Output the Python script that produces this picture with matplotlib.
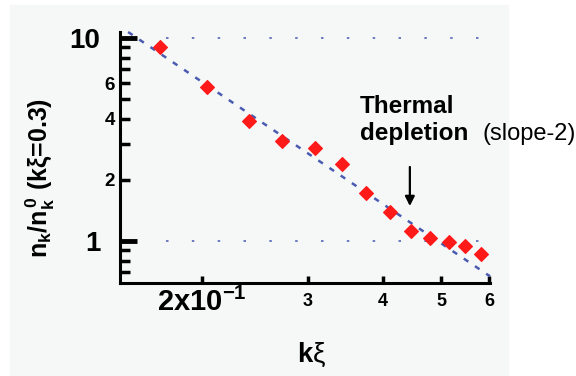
import matplotlib.pyplot as plt
from matplotlib.patches import Rectangle

plt.rcParams['font.family'] = ['Liberation Sans', 'DejaVu Sans']
plt.rcParams['mathtext.fontset'] = 'custom'
plt.rcParams['mathtext.rm'] = 'Liberation Sans'
plt.rcParams['mathtext.bf'] = 'Liberation Sans:bold'
plt.rcParams['mathtext.it'] = 'Liberation Sans:italic'

## measured points (k xi, n_k / n_k0)
k_xi = [0.170, 0.204, 0.239, 0.272, 0.308, 0.342, 0.375, 0.410, 0.445, 0.479, 0.514, 0.547, 0.582]
n_ratio = [9.06, 5.75, 3.91, 3.10, 2.86, 2.39, 1.73, 1.385, 1.12, 1.04, 0.99, 0.94, 0.86]

## slope -2 guide line (end points)
fit_x = [0.1507, 0.602]
fit_y = [10.7, 0.67]

## dotted reference levels
grid_levels = [1, 10]
grid_x = [0.174, 0.60]

xticks = [0.3, 0.4, 0.5, 0.6]
xlabels = ['3', '4', '5', '6']
y_major = [1, 10]
y_major_labels = ['1', '10']
y_minor = [0.7, 0.8, 0.9, 2, 3, 4, 5, 6, 7, 8, 9]
y_minor_labels = ['', '', '', '2', '', '4', '', '6', '', '', '']

fig = plt.figure(figsize=(5.76, 3.76), dpi=100)
fig.add_artist(Rectangle((10/576, 0), 498/576, 371/376, transform=fig.transFigure,
                         color='#f6f8f8', zorder=0))
ax = fig.add_axes([120/576, 93/376, 370/576, 251/376])
ax.set_facecolor('none')
ax.set_xscale('log')
ax.set_yscale('log')
ax.set_xlim(0.1461, 0.602)
ax.set_ylim(0.621, 10.7)

ax.hlines(grid_levels, grid_x[0], grid_x[1], colors='#5565b5',
          linestyles=(0, (1.5, 14)), lw=1.2)
ax.plot(fit_x, fit_y, color='#4a5bb0', lw=1.8, dashes=(2.2, 3.2), zorder=2, clip_on=False)
ax.plot(k_xi, n_ratio, 'D', color='#ff1a1a', ms=7, mec='#ff1a1a', mew=0.8, zorder=3)

ax.set_xticks(xticks, xlabels)
ax.set_xticks([0.2], [r'$\mathbf{2x10^{-1}}$'], minor=True)
ax.set_yticks(y_major, y_major_labels)
ax.set_yticks(y_minor, y_minor_labels, minor=True)

ax.tick_params(axis='x', which='major', direction='in', length=5, width=2.5, pad=7, labelsize=13)
ax.tick_params(axis='x', which='minor', direction='in', length=5, width=2.5, pad=3.5, labelsize=21)
ax.tick_params(axis='y', which='major', direction='in', length=12, width=3.5, pad=14, labelsize=20)
ax.tick_params(axis='y', which='minor', direction='in', length=7, width=2.5, pad=3.5, labelsize=13.5)
for lbl in ax.get_xticklabels() + ax.get_yticklabels() + ax.get_yticklabels(minor=True):
    lbl.set_fontweight('bold')

for s in ['top', 'right']:
    ax.spines[s].set_visible(False)
for s in ['left', 'bottom']:
    ax.spines[s].set_linewidth(2.2)

ax.annotate('', xy=(0.443, 1.44), xytext=(0.443, 2.39),
            arrowprops=dict(arrowstyle='-|>', color='black', lw=1.6, mutation_scale=14))

fig.text(360/576, 1 - 113/376, 'Thermal', fontsize=17.5, fontweight='bold', va='baseline')
fig.text(360/576, 1 - 140/376, 'depletion', fontsize=17.5, fontweight='bold', va='baseline')
fig.text(482/576, 1 - 140/376, '(slope-2)', fontsize=17, va='baseline')

ax.set_ylabel(r'$\mathbf{n_k/n_k^{\,0}}$ (kξ=0.3)', fontsize=18, fontweight='bold', va='center')
ax.yaxis.set_label_coords(-0.216, 0.418)
ax.set_xlabel(r'$\mathbf{k}\mathrm{\xi}$', fontsize=20, va='center')
ax.xaxis.set_label_coords(0.519, -0.287)

fig.savefig('out.png', dpi=100)
